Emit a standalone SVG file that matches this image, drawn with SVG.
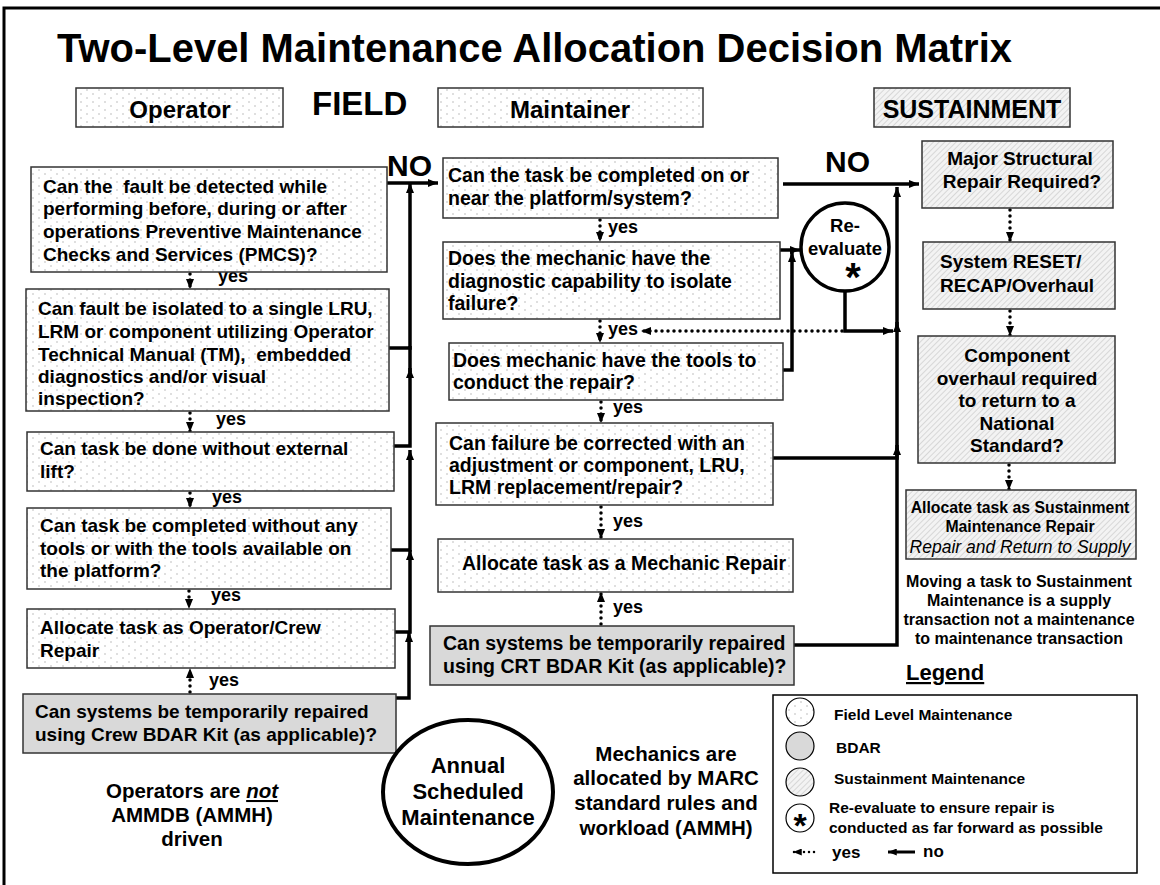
<svg xmlns="http://www.w3.org/2000/svg" width="1160" height="885" viewBox="0 0 1160 885">
<defs>
<pattern id="dots" width="12" height="8" patternUnits="userSpaceOnUse">
<rect width="12" height="8" fill="#ffffff"/>
<circle cx="3" cy="2" r="0.7" fill="#a8a8a8"/>
<circle cx="9" cy="6" r="0.7" fill="#a8a8a8"/>
</pattern>
<pattern id="hatch" width="4" height="4" patternUnits="userSpaceOnUse" patternTransform="rotate(45)">
<rect width="4" height="4" fill="#f3f3f3"/>
<line x1="0" y1="0" x2="0" y2="4" stroke="#c4c4c4" stroke-width="1.2"/>
</pattern>
<marker id="ah" viewBox="0 0 10 8" refX="10" refY="4" markerWidth="10" markerHeight="8" markerUnits="userSpaceOnUse" orient="auto">
<path d="M0,0 L10,4 L0,8 z" fill="#000"/>
</marker>
<marker id="ahs" viewBox="0 0 10 8" refX="10" refY="4" markerWidth="9" markerHeight="7" markerUnits="userSpaceOnUse" orient="auto">
<path d="M0,0 L10,4 L0,8 z" fill="#000"/>
</marker>
</defs>
<style>
text{font-family:"Liberation Sans",Arial,Helvetica,sans-serif;font-weight:bold;fill:#000}
.q{font-size:19px}
.qm{font-size:19.5px}
.y{font-size:18px}
.c{text-anchor:middle}
.box{stroke:#333;stroke-width:1.5}
.fd{fill:url(#dots)}
.fh{fill:url(#hatch)}
.fg{fill:#d9d9d9}
.ln{fill:none;stroke:#000;stroke-width:3.5}
.no{fill:none;stroke:#000;stroke-width:3.5;marker-end:url(#ah)}
.yes{fill:none;stroke:#000;stroke-width:3.5;stroke-dasharray:0 6;stroke-linecap:round;marker-end:url(#ah)}
</style>
<rect x="4" y="8" width="1180" height="900" fill="#fff" stroke="#000" stroke-width="3"/>

<text x="57" y="62" font-size="40" textLength="955" lengthAdjust="spacingAndGlyphs">Two-Level Maintenance Allocation Decision Matrix</text>

<g id="hdr-operator"><rect class="box fd" x="76" y="88" width="207" height="39"/><text class="c" x="180" y="118" font-size="24">Operator</text></g>
<g id="hdr-field"><text x="312" y="115" font-size="33">FIELD</text></g>
<g id="hdr-maintainer"><rect class="box fd" x="438" y="88" width="265" height="39"/><text class="c" x="570" y="118" font-size="24">Maintainer</text></g>
<g id="hdr-sustainment"><rect class="box fh" x="874" y="88" width="196" height="39"/><text class="c" x="972" y="118" font-size="25">SUSTAINMENT</text></g>

<g id="connectors">
<path class="no" d="M387,183 H438"/>
<path class="no" d="M389,348 H410 V183"/>
<path class="ln" d="M410,372 V346"/>
<path class="no" d="M394,446 H410 V368"/>
<path class="no" d="M391,550 H410 V450"/>
<path class="no" d="M395,632 H410 V550"/>
<path class="no" d="M396,698 H409 V632"/>
<path class="yes" d="M190,274 V289"/>
<path class="yes" d="M190,413 V432"/>
<path class="yes" d="M190,493 V508"/>
<path class="yes" d="M189,591 V609"/>
<path class="yes" d="M190,692 V668"/>
<path class="no" d="M783,184 H919"/>
<path class="no" d="M780,250 H800"/>
<path class="no" d="M783,370 H792 V252"/>
<path class="no" d="M845,291 V331 H893"/>
<path class="no" d="M897,331 V187"/>
<path class="no" d="M773,458 H897 V322"/>
<path class="no" d="M794,645 H897 V445"/>
<path class="yes" d="M842,331 H641"/>
<path class="yes" d="M600,220 V242"/>
<path class="yes" d="M600,321 V343"/>
<path class="yes" d="M601,402 V423"/>
<path class="yes" d="M601,507 V539"/>
<path class="yes" d="M601,624 V592"/>
<path class="yes" d="M1010,210 V242"/>
<path class="yes" d="M1010,311 V336"/>
<path class="yes" d="M1009,465 V490"/>
<text x="387" y="176" font-size="30">NO</text>
<text x="825" y="172" font-size="30">NO</text>
<text class="y" x="218" y="282">yes</text>
<text class="y" x="216" y="425">yes</text>
<text class="y" x="212" y="503">yes</text>
<text class="y" x="211" y="601">yes</text>
<text class="y" x="209" y="686">yes</text>
<text class="y" x="608" y="233">yes</text>
<text class="y" x="608" y="335">yes</text>
<text class="y" x="613" y="413">yes</text>
<text class="y" x="613" y="527">yes</text>
<text class="y" x="613" y="613">yes</text>
</g>

<g id="op1"><rect class="box fd" x="31" y="167" width="356" height="105"/>
<text class="q" x="43" xml:space="preserve"><tspan x="43" y="193">Can the  fault be detected while</tspan><tspan x="43" y="215">performing before, during or after</tspan><tspan x="43" y="238">operations Preventive Maintenance</tspan><tspan x="43" y="261">Checks and Services (PMCS)?</tspan></text></g>

<g id="op2"><rect class="box fd" x="26" y="289" width="363" height="122"/>
<text class="q" xml:space="preserve"><tspan x="38" y="315">Can fault be isolated to a single LRU,</tspan><tspan x="38" y="338">LRM or component utilizing Operator</tspan><tspan x="38" y="361">Technical Manual (TM),  embedded</tspan><tspan x="38" y="383">diagnostics and/or visual</tspan><tspan x="38" y="405">inspection?</tspan></text></g>

<g id="op3"><rect class="box fd" x="27" y="432" width="367" height="59"/>
<text class="q"><tspan x="40" y="455">Can task be done without external</tspan><tspan x="40" y="478">lift?</tspan></text></g>

<g id="op4"><rect class="box fd" x="27" y="508" width="364" height="81"/>
<text class="q"><tspan x="40" y="532">Can task be completed without any</tspan><tspan x="40" y="555">tools or with the tools available on</tspan><tspan x="40" y="577">the platform?</tspan></text></g>

<g id="op5"><rect class="box fd" x="27" y="609" width="368" height="59"/>
<text class="q"><tspan x="40" y="634">Allocate task as Operator/Crew</tspan><tspan x="40" y="657">Repair</tspan></text></g>

<g id="op6"><rect class="box fg" x="23" y="694" width="373" height="59"/>
<text class="q"><tspan x="35" y="718">Can systems be temporarily repaired</tspan><tspan x="35" y="741">using Crew BDAR Kit (as applicable)?</tspan></text></g>

<g id="op-note"><text class="c" font-size="20.5"><tspan x="192" y="798">Operators are <tspan font-style="italic" text-decoration="underline">not</tspan></tspan><tspan x="192" y="822">AMMDB (AMMH)</tspan><tspan x="192" y="846">driven</tspan></text></g>

<g id="m1"><rect class="box fd" x="443" y="158" width="335" height="60"/>
<text class="qm"><tspan x="448" y="182">Can the task be completed on or</tspan><tspan x="448" y="205">near the platform/system?</tspan></text></g>

<g id="m2"><rect class="box fd" x="443" y="242" width="337" height="77"/>
<text class="qm"><tspan x="448" y="265">Does the mechanic have the</tspan><tspan x="448" y="288">diagnostic capability to isolate</tspan><tspan x="448" y="310">failure?</tspan></text></g>

<g id="m3"><rect class="box fd" x="449" y="343" width="334" height="57"/>
<text class="qm"><tspan x="453" y="367">Does mechanic have the tools to</tspan><tspan x="453" y="389">conduct the repair?</tspan></text></g>

<g id="m4"><rect class="box fd" x="436" y="423" width="337" height="82"/>
<text class="qm"><tspan x="449" y="450">Can failure be corrected with an</tspan><tspan x="449" y="472">adjustment or component, LRU,</tspan><tspan x="449" y="494">LRM replacement/repair?</tspan></text></g>

<g id="m5"><rect class="box fd" x="438" y="539" width="355" height="53"/>
<text class="qm" x="462" y="570">Allocate task as a Mechanic Repair</text></g>

<g id="m6"><rect class="box fg" x="430" y="626" width="364" height="59"/>
<text class="qm"><tspan x="443" y="650">Can systems be temporarily repaired</tspan><tspan x="443" y="673">using CRT BDAR Kit (as applicable)?</tspan></text></g>

<g id="reevaluate"><circle cx="845" cy="247" r="44" fill="#fff" stroke="#000" stroke-width="3.5"/>
<text class="c" font-size="18.5"><tspan x="845" y="232">Re-</tspan><tspan x="845" y="255">evaluate</tspan></text>
<text class="c" x="853" y="291" font-size="40">*</text></g>

<g id="annual"><ellipse cx="468" cy="792" rx="85" ry="72" fill="#fff" stroke="#000" stroke-width="4"/>
<text class="c" font-size="22"><tspan x="468" y="773">Annual</tspan><tspan x="468" y="799">Scheduled</tspan><tspan x="468" y="825">Maintenance</tspan></text></g>

<g id="mech-note"><text class="c" font-size="20.5"><tspan x="666" y="761">Mechanics are</tspan><tspan x="666" y="785">allocated by MARC</tspan><tspan x="666" y="810">standard rules and</tspan><tspan x="666" y="835">workload (AMMH)</tspan></text></g>

<g id="s1"><rect class="box fh" x="922" y="141" width="191" height="67"/>
<text class="c" font-size="19"><tspan x="1020" y="165">Major Structural</tspan><tspan x="1022" y="188">Repair Required?</tspan></text></g>

<g id="s2"><rect class="box fh" x="923" y="242" width="192" height="67"/>
<text font-size="19"><tspan x="940" y="268">System RESET/</tspan><tspan x="940" y="292">RECAP/Overhaul</tspan></text></g>

<g id="s3"><rect class="box fh" x="918" y="336" width="197" height="127"/>
<text class="c" font-size="19"><tspan x="1017" y="362">Component</tspan><tspan x="1017" y="385">overhaul required</tspan><tspan x="1017" y="407">to return to a</tspan><tspan x="1017" y="430">National</tspan><tspan x="1017" y="452">Standard?</tspan></text></g>

<g id="s4"><rect class="box fh" x="906" y="490" width="230" height="69"/>
<text class="c" font-size="15.8"><tspan x="1020" y="513">Allocate task as Sustainment</tspan><tspan x="1020" y="532">Maintenance Repair</tspan></text>
<text class="c" x="1020" y="553" font-size="17.5" font-style="italic" style="font-weight:normal">Repair and Return to Supply</text></g>

<g id="s-note"><text class="c" font-size="16"><tspan x="1019" y="587">Moving a task to Sustainment</tspan><tspan x="1019" y="606">Maintenance is a supply</tspan><tspan x="1019" y="625">transaction not a maintenance</tspan><tspan x="1019" y="644">to maintenance transaction</tspan></text></g>

<g id="legend">
<text x="906" y="680" font-size="22" text-decoration="underline">Legend</text>
<rect x="773" y="695" width="364" height="178" fill="#fff" stroke="#000" stroke-width="1.5"/>
<circle cx="800" cy="712" r="14" class="fd" stroke="#000" stroke-width="1.2"/>
<circle cx="800" cy="746" r="14" class="fg" stroke="#000" stroke-width="1.2"/>
<circle cx="800" cy="782" r="14" class="fh" stroke="#000" stroke-width="1.2"/>
<circle cx="800" cy="818" r="14" fill="#fff" stroke="#000" stroke-width="1.2"/>
<text class="c" x="800" y="837" font-size="34">*</text>
<text font-size="15.5" x="834" y="720">Field Level Maintenance</text>
<text font-size="15.5" x="836" y="753">BDAR</text>
<text font-size="15.5" x="834" y="784">Sustainment Maintenance</text>
<text font-size="15.5"><tspan x="829" y="813">Re-evaluate to ensure repair is</tspan><tspan x="829" y="833">conducted as far forward as possible</tspan></text>
<path d="M814,852 H793" fill="none" stroke="#000" stroke-width="2.5" stroke-dasharray="0 5" stroke-linecap="round" marker-end="url(#ahs)"/>
<text font-size="17" x="832" y="858">yes</text>
<path d="M915,852 H888" fill="none" stroke="#000" stroke-width="3" marker-end="url(#ahs)"/>
<text font-size="17" x="923" y="857">no</text>
</g>
</svg>
